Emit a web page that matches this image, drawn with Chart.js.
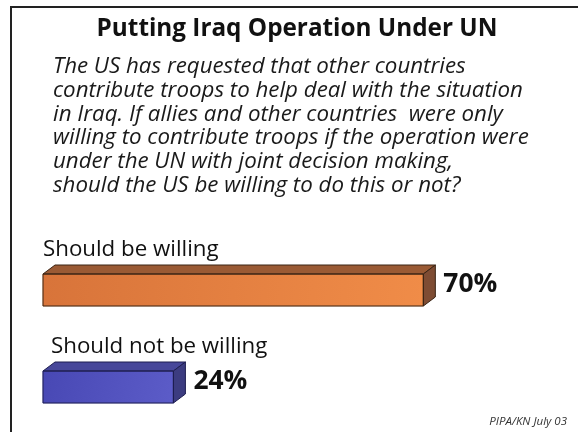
<!DOCTYPE html>
<html>
<head>
<meta charset="utf-8">
<script src="https://cdn.jsdelivr.net/npm/chart.js@4"></script>
<style>
  html, body { margin: 0; padding: 0; background: #fff; }
  #wrap { width: 578px; height: 432px; }
</style>
</head>
<body>
<div id="wrap"><canvas id="pollChart" width="578" height="432"></canvas></div>
<script>
// chart data
const title = 'Putting Iraq Operation Under UN';
const questionLines = [
    'The US has requested that other countries',
    'contribute troops to help deal with the situation',
    'in Iraq. If allies and other countries  were only',
    'willing to contribute troops if the operation were',
    'under the UN with joint decision making,',
    'should the US be willing to do this or not?'
];
const categories = ['Should be willing', 'Should not be willing'];
const values = [70, 24];
const source = 'PIPA/KN July 03';

const FONT = '"Open Sans", "Noto Sans", sans-serif';

// face colours for the fake 3D bars
const faces = [
    { front: ['#d8743a', '#f08c48'], top: '#9a5a34', side: '#7e4c33', edge: '#3a2414' },
    { front: ['#4848b4', '#5c5cc8'], top: '#47479a', side: '#3c3c80', edge: '#1e1e50' }
];

// fit a font size so that text takes a given width
function fitFont(ctx, text, style, width) {
    ctx.font = style + ' 20px ' + FONT;
    const w = ctx.measureText(text).width;
    return 20 * width / w;
}

const decorPlugin = {
    id: 'decor',
    beforeDraw(chart) {
        const ctx = chart.ctx;
        ctx.save();
        ctx.fillStyle = '#fff';
        ctx.fillRect(0, 0, chart.width, chart.height);

        // frame, only left and top edges are visible
        ctx.strokeStyle = '#222';
        ctx.lineWidth = 2;
        ctx.beginPath();
        ctx.moveTo(11, chart.height);
        ctx.lineTo(11, 7);
        ctx.lineTo(chart.width, 7);
        ctx.stroke();

        ctx.fillStyle = '#111';
        ctx.textBaseline = 'alphabetic';

        // title
        const ts = fitFont(ctx, title, 'bold', 400);
        ctx.font = 'bold ' + ts.toFixed(1) + 'px ' + FONT;
        ctx.textAlign = 'center';
        ctx.fillText(title, 297, 36);

        // question
        const qs = fitFont(ctx, questionLines[1], 'italic', 470);
        ctx.font = 'italic ' + qs.toFixed(1) + 'px ' + FONT;
        ctx.fillStyle = '#1a1a1a';
        ctx.textAlign = 'left';
        questionLines.forEach((line, i) => {
            ctx.fillText(line, 53, 73 + i * 23.8);
        });

        // source note
        ctx.font = 'italic 11.5px ' + FONT;
        ctx.textAlign = 'right';
        ctx.fillStyle = '#333';
        ctx.fillText(source, 567, 425);
        ctx.restore();
    },
    afterDatasetsDraw(chart) {
        const ctx = chart.ctx;
        const meta = chart.getDatasetMeta(0);
        const dx = 12, dy = 9;
        const indent = [0, 8];
        ctx.save();
        meta.data.forEach((bar, i) => {
            const p = bar.getProps(['x', 'y', 'base', 'height'], true);
            const left = p.base, right = p.x;
            const top = p.y - p.height / 2, bottom = p.y + p.height / 2;
            const f = faces[i];

            // front face gradient over the plain bar
            const g = ctx.createLinearGradient(left, top, right, bottom);
            g.addColorStop(0, f.front[0]);
            g.addColorStop(1, f.front[1]);
            ctx.fillStyle = g;
            ctx.fillRect(left, top, right - left, bottom - top);

            ctx.strokeStyle = f.edge;
            ctx.lineWidth = 1;
            ctx.lineJoin = 'round';

            // top face
            ctx.beginPath();
            ctx.moveTo(left, top);
            ctx.lineTo(left + dx, top - dy);
            ctx.lineTo(right + dx, top - dy);
            ctx.lineTo(right, top);
            ctx.closePath();
            ctx.fillStyle = f.top;
            ctx.fill();
            ctx.stroke();

            // side face
            ctx.beginPath();
            ctx.moveTo(right, top);
            ctx.lineTo(right + dx, top - dy);
            ctx.lineTo(right + dx, bottom - dy);
            ctx.lineTo(right, bottom);
            ctx.closePath();
            ctx.fillStyle = f.side;
            ctx.fill();
            ctx.stroke();

            ctx.strokeRect(left, top, right - left, bottom - top);

            // category label above the bar
            ctx.fillStyle = '#111';
            ctx.textAlign = 'left';
            ctx.textBaseline = 'alphabetic';
            const ls = fitFont(ctx, categories[1], 'normal', 216);
            ctx.font = ls.toFixed(1) + 'px ' + FONT;
            ctx.fillText(categories[i], left + indent[i], top - 18);

            // value label
            const vs = fitFont(ctx, '70%', 'bold', 54);
            ctx.font = 'bold ' + vs.toFixed(1) + 'px ' + FONT;
            ctx.textBaseline = 'middle';
            ctx.fillText(values[i] + '%', right + dx + 8, p.y - 6);
        });
        ctx.restore();
    }
};

const ctx = document.getElementById('pollChart').getContext('2d');
const pollChart = new Chart(ctx, {
    type: 'bar',
    data: {
        labels: categories,
        datasets: [{
            data: values,
            backgroundColor: faces.map(f => f.front[1]),
            borderWidth: 0,
            barThickness: 32,
            clip: false
        }]
    },
    options: {
        indexAxis: 'y',
        responsive: false,
        animation: false,
        layout: {
            padding: { left: 43, right: 46, top: 290, bottom: 45 }
        },
        scales: {
            x: { display: false, min: 0, max: 90 },
            y: { display: false, offset: false }
        },
        plugins: {
            legend: { display: false },
            tooltip: { enabled: false }
        }
    },
    plugins: [decorPlugin]
});
</script>
</body>
</html>
